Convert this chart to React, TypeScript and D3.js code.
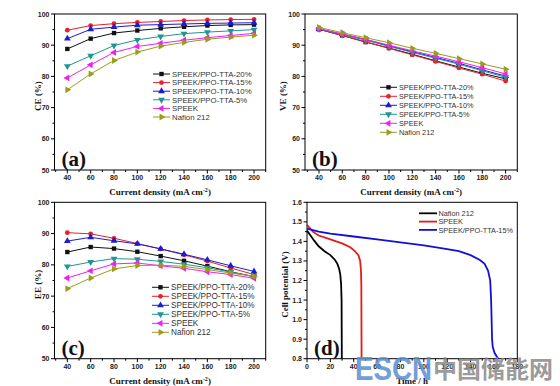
import * as d3 from 'd3';

// rate tests (a)-(c)
const currentDensity = [40, 60, 80, 100, 120, 140, 160, 180, 200];
const membraneNames = [
  'SPEEK/PPO-TTA-20%',
  'SPEEK/PPO-TTA-15%',
  'SPEEK/PPO-TTA-10%',
  'SPEEK/PPO-TTA-5%',
  'SPEEK',
  'Nafion 212',
];

const ceTTA20 = [88.8, 92.1, 93.9, 94.7, 95.4, 95.9, 96.3, 96.5, 96.6];
const ceTTA15 = [94.8, 96.3, 96.9, 97.3, 97.6, 97.9, 98.1, 98.2, 98.3];
const ceTTA10 = [92.1, 95.1, 95.8, 96.4, 96.6, 96.8, 97.0, 97.1, 97.2];
const ceTTA5 = [83.3, 86.6, 89.9, 91.7, 92.8, 93.7, 94.2, 94.6, 95.0];
const ceSPEEK = [79.5, 83.7, 87.7, 89.6, 90.6, 91.6, 92.4, 93.1, 93.8];
const ceNafion = [75.7, 80.8, 85.1, 87.8, 89.7, 90.9, 91.9, 92.6, 93.2];

const veTTA20 = [95.1, 93.1, 91.0, 89.1, 87.1, 85.0, 83.0, 81.0, 79.2];
const veTTA15 = [95.1, 93.1, 91.1, 89.0, 86.9, 84.8, 82.7, 80.7, 78.5];
const veTTA10 = [95.2, 93.5, 91.8, 89.8, 87.9, 86.1, 84.2, 82.1, 80.1];
const veTTA5 = [95.2, 93.4, 91.6, 89.6, 87.7, 85.8, 83.9, 81.8, 79.7];
const veSPEEK = [95.3, 93.6, 91.9, 90.0, 88.2, 86.5, 84.7, 82.8, 80.8];
const veNafion = [95.7, 94.0, 92.4, 90.8, 89.0, 87.4, 85.7, 84.0, 82.3];

const eeTTA20 = [84.1, 85.7, 85.2, 84.2, 82.8, 81.3, 79.6, 77.8, 76.2];
const eeTTA15 = [90.3, 89.9, 88.5, 86.8, 85.1, 83.2, 81.2, 79.0, 76.9];
const eeTTA10 = [87.6, 88.8, 87.7, 86.7, 85.1, 83.4, 81.6, 79.7, 77.9];
const eeTTA5 = [79.5, 80.9, 82.0, 81.8, 81.1, 80.2, 79.1, 77.7, 76.3];
const eeSPEEK = [75.8, 78.1, 80.3, 80.6, 79.7, 78.9, 77.8, 76.9, 75.7];
const eeNafion = [72.4, 75.8, 78.7, 79.8, 79.9, 79.5, 78.5, 77.4, 76.3];

const rateXTicks = [40, 60, 80, 100, 120, 140, 160, 180, 200];
const effTicks = [50, 60, 70, 80, 90, 100];

// self-discharge (d)
const selfNames = ['Nafion 212', 'SPEEK', 'SPEEK/PPO-TTA-15%'];
const nafionTime = [0, 3, 6, 10, 15, 20, 24, 26, 27.5, 28.5, 29.2, 29.6, 29.8];
const nafionVolt = [1.455, 1.43, 1.405, 1.375, 1.35, 1.33, 1.305, 1.285, 1.26, 1.23, 1.18, 1.1, 0.8];
const speekTime = [0, 5, 10, 20, 30, 37, 41, 44, 45.5, 46.2, 46.5, 46.7];
const speekVolt = [1.485, 1.45, 1.43, 1.41, 1.39, 1.37, 1.35, 1.33, 1.3, 1.25, 1.18, 0.8];
const ttaTime = [0, 10, 20, 40, 60, 80, 100, 120, 130, 140, 148, 152, 155, 156.8, 157.6, 158, 158.4, 159, 160.5, 163, 164];
const ttaVolt = [1.465, 1.45, 1.44, 1.425, 1.41, 1.395, 1.38, 1.36, 1.35, 1.33, 1.305, 1.285, 1.25, 1.2, 1.1, 1.0, 0.9, 0.86, 0.83, 0.805, 0.8];
const timeTicks = [0, 20, 40, 60, 80, 100, 120, 140, 160, 180];
const voltTicks = [0.8, 0.9, 1.0, 1.1, 1.2, 1.3, 1.4, 1.5, 1.6];

const colors = ['#111111', '#e8202a', '#1c1cd0', '#1f9790', '#f020f0', '#9c9c1c'];
const markers = ['square', 'circle', 'up', 'down', 'left', 'right'];

const sans = '"Liberation Sans", Arial, sans-serif';
const serif = '"Liberation Serif", "Times New Roman", serif';

type Box = { left: number; right: number; top: number; bottom: number };

function Marker({ kind, cx, cy, color }: { kind: string; cx: number; cy: number; color: string }) {
  const type = kind === 'square' ? d3.symbolSquare : kind === 'circle' ? d3.symbolCircle : d3.symbolTriangle;
  const size = kind === 'square' ? 19 : kind === 'circle' ? 18 : 20;
  const rot = { down: 180, left: -90, right: 90 }[kind] || 0;
  const d = d3.symbol(type, size)() || '';
  return <path d={d} transform={`translate(${cx},${cy}) rotate(${rot})`} fill={color} />;
}

function Frame({ box, x, y, xTicks, yTicks, xMinor, yMinor, yFmt, xTitle, yTitle, yTitleX, letter, letterX }: any) {
  return (
    <g>
      <rect x={box.left} y={box.top} width={box.right - box.left} height={box.bottom - box.top} fill="none" stroke="#000" strokeWidth={1} />
      {xMinor.map((t: number) => (
        <line key={'xm' + t} x1={x(t)} x2={x(t)} y1={box.bottom} y2={box.bottom + 2} stroke="#000" />
      ))}
      {yMinor.map((t: number) => (
        <line key={'ym' + t} x1={box.left - 2} x2={box.left} y1={y(t)} y2={y(t)} stroke="#000" />
      ))}
      {xTicks.map((t: number) => (
        <g key={'x' + t}>
          <line x1={x(t)} x2={x(t)} y1={box.bottom} y2={box.bottom + 3.5} stroke="#000" />
          <text x={x(t)} y={box.bottom + 10} fontFamily={sans} fontWeight="bold" fontSize={7} textAnchor="middle" fill="#222">{t}</text>
        </g>
      ))}
      {yTicks.map((t: number) => (
        <g key={'y' + t}>
          <line x1={box.left - 3.5} x2={box.left} y1={y(t)} y2={y(t)} stroke="#000" />
          <text x={box.left - 5} y={y(t) + 2.5} fontFamily={sans} fontWeight="bold" fontSize={7} textAnchor="end" fill="#222">{yFmt(t)}</text>
        </g>
      ))}
      <text x={(box.left + box.right) / 2} y={box.bottom + 25} fontFamily={serif} fontWeight="bold" fontSize={9} textAnchor="middle" fill="#111">
        {xTitle}
      </text>
      <text transform={`translate(${yTitleX},${(box.top + box.bottom) / 2 + 4}) rotate(-90)`} fontFamily={serif} fontWeight="bold" fontSize={9} textAnchor="middle" fill="#111">
        {yTitle}
      </text>
      <text x={letterX} y={box.bottom - 4} fontFamily={serif} fontWeight="bold" fontSize={21} fill="#111">{letter}</text>
    </g>
  );
}

const densityTitle = (
  <>
    Current density (mA cm<tspan dy={-3} fontSize={6}>-2</tspan><tspan dy={3}>)</tspan>
  </>
);

function RatePanel({ box, xDomain, seriesValues, yTitle, yTitleX, letter, legend }: any) {
  const x = d3.scaleLinear().domain(xDomain).range([box.left, box.right]);
  const y = d3.scaleLinear().domain([50, 100]).range([box.bottom, box.top]);
  const line = d3.line<number>().x((_, i) => x(currentDensity[i])).y((d) => y(d));
  const xMinor = d3.range(30, 211, 10).filter((t) => !rateXTicks.includes(t) && t > xDomain[0]);
  const yMinor = d3.range(55, 100, 10);
  return (
    <g>
      <Frame box={box} x={x} y={y} xTicks={rateXTicks} yTicks={effTicks} xMinor={xMinor} yMinor={yMinor} yFmt={(t: number) => t}
        xTitle={densityTitle} yTitle={yTitle} yTitleX={yTitleX} letter={letter} letterX={box.left + 7} />
      {seriesValues.map((vals: number[], s: number) => (
        <g key={s}>
          <path d={line(vals) || ''} fill="none" stroke={colors[s]} strokeWidth={1} />
          {vals.map((v, i) => (
            <Marker key={i} kind={markers[s]} cx={x(currentDensity[i])} cy={y(v)} color={colors[s]} />
          ))}
        </g>
      ))}
      {membraneNames.map((name, s) => {
        const ly = legend.y + s * legend.dy;
        return (
          <g key={name}>
            <line x1={legend.x} x2={legend.x + 17} y1={ly} y2={ly} stroke={colors[s]} strokeWidth={1} />
            <Marker kind={markers[s]} cx={legend.x + 8.5} cy={ly} color={colors[s]} />
            <text x={legend.x + 19} y={ly + 2.7} fontFamily={sans} fontSize={legend.fs} fill="#333">{name}</text>
          </g>
        );
      })}
    </g>
  );
}

function SelfDischargePanel() {
  const box: Box = { left: 307, right: 517.3, top: 202.3, bottom: 358.7 };
  const x = d3.scaleLinear().domain([0, 180]).range([box.left, box.right]);
  const y = d3.scaleLinear().domain([0.8, 1.6]).range([box.bottom, box.top]);
  const line = d3.line<[number, number]>().x((d) => x(d[0])).y((d) => y(d[1]));
  const curves = [
    { t: nafionTime, v: nafionVolt, c: '#000000' },
    { t: speekTime, v: speekVolt, c: '#e21b1b' },
    { t: ttaTime, v: ttaVolt, c: '#1010d8' },
  ];
  const xMinor = d3.range(10, 180, 20);
  const yMinor = d3.range(0.85, 1.6, 0.1);
  return (
    <g>
      <Frame box={box} x={x} y={y} xTicks={timeTicks} yTicks={voltTicks} xMinor={xMinor} yMinor={yMinor} yFmt={d3.format('.1f')}
        xTitle="Time / h" yTitle="Cell potential (V)" yTitleX={288} letter="(d)" letterX={314} />
      {curves.map((c, i) => (
        <path key={i} d={line(c.t.map((t, j) => [t, c.v[j]] as [number, number])) || ''} fill="none" stroke={c.c} strokeWidth={1.8} />
      ))}
      {selfNames.map((name, i) => {
        const ly = 213.3 + i * 8.3;
        return (
          <g key={name}>
            <line x1={419} x2={437} y1={ly} y2={ly} stroke={curves[i].c} strokeWidth={1.8} />
            <text x={438.5} y={ly + 2.6} fontFamily={sans} fontSize={7.3} fill="#333">{name}</text>
          </g>
        );
      })}
    </g>
  );
}

export default function App() {
  const boxA: Box = { left: 54.5, right: 265.7, top: 14, bottom: 170 };
  const boxB: Box = { left: 305, right: 517.3, top: 14, bottom: 170 };
  const boxC: Box = { left: 54.5, right: 265.7, top: 202.3, bottom: 358.7 };
  return (
    <svg width={560} height={386} style={{ position: 'absolute', left: 0, top: 0, background: '#fff' }}>
      <RatePanel box={boxA} xDomain={[29, 210]} seriesValues={[ceTTA20, ceTTA15, ceTTA10, ceTTA5, ceSPEEK, ceNafion]}
        yTitle="CE (%)" yTitleX={41} letter="(a)" legend={{ x: 153, y: 74, dy: 8.6, fs: 7.8 }} />
      <RatePanel box={boxB} xDomain={[28, 210]} seriesValues={[veTTA20, veTTA15, veTTA10, veTTA5, veSPEEK, veNafion]}
        yTitle="VE (%)" yTitleX={286} letter="(b)" legend={{ x: 380, y: 87.3, dy: 9, fs: 7.3 }} />
      <RatePanel box={boxC} xDomain={[29, 210]} seriesValues={[eeTTA20, eeTTA15, eeTTA10, eeTTA5, eeSPEEK, eeNafion]}
        yTitle="EE (%)" yTitleX={41} letter="(c)" legend={{ x: 152, y: 287.3, dy: 9, fs: 8.2 }} />
      <SelfDischargePanel />
      <g opacity={0.85}>
        <text x={355} y={380} fontFamily={sans} fontWeight="bold" fontSize={34} fill="#5a8fd0" textLength={77} lengthAdjust="spacingAndGlyphs">ESCN</text>
        <text x={433} y={378} fontFamily='"Noto Sans CJK SC", sans-serif' fontWeight="bold" fontSize={23.5} fill="#8a8a8a" textLength={120} lengthAdjust="spacingAndGlyphs">中国储能网</text>
      </g>
    </svg>
  );
}
